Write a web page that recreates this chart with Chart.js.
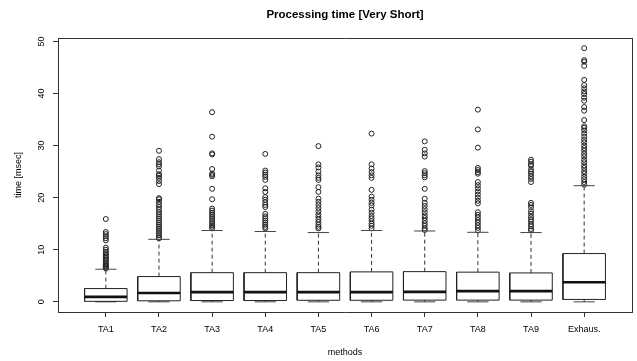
<!DOCTYPE html>
<html><head><meta charset="utf-8">
<script src="https://cdn.jsdelivr.net/npm/chart.js@4"></script>
<style>html,body{margin:0;padding:0;background:#fff}#wrap{width:637px;height:361px}</style>
</head><body><div id="wrap"><canvas id="c" width="637" height="361"></canvas></div>
<script>
const categories = ['TA1','TA2','TA3','TA4','TA5','TA6','TA7','TA8','TA9','Exhaus.'];
const yTickValues = [0,10,20,30,40,50];
const lowerWhisker = [0,0,0,0,0,0,0,0,0,0];
const q1 = [0.1,0.2,0.25,0.25,0.3,0.3,0.33,0.33,0.33,0.46];
const median = [0.95,1.7,1.86,1.86,1.86,1.86,1.92,2.05,2.05,3.77];
const q3 = [2.55,4.85,5.6,5.6,5.6,5.75,5.8,5.7,5.55,9.27];
const upperWhisker = [6.26,12.0,13.7,13.5,13.3,13.7,13.6,13.35,13.3,22.3];
const outliersTA1 = [15.9,13.4,13.0,12.6,12.2,11.8,10.4,10.0,9.6,9.3,9.0,8.7,8.4,8.1,7.8,7.5,7.2,7.0,6.8,6.6,6.4];
const outliersTA2 = [29.0,27.4,26.8,26.4,26.0,25.2,24.5,24.2,23.8,23.2,22.6,19.9,19.7,19.2,18.7,18.2,17.7,17.2,16.8,16.4,16.0,15.6,15.2,14.8,14.4,14.0,13.6,13.2,12.8,12.4,12.2];
const outliersTA3 = [36.4,31.7,28.5,28.3,25.5,24.6,24.4,24.1,21.7,19.7,17.9,17.5,17.1,16.7,16.3,15.9,15.5,15.1,14.7,14.4,14.1];
const outliersTA4 = [28.4,25.2,24.8,24.4,24.0,23.4,21.8,21.1,20.1,19.6,19.1,18.6,18.2,16.9,16.4,16.0,15.6,15.2,14.8,14.4,14.1];
const outliersTA5 = [29.9,26.4,25.8,25.0,24.3,23.8,23.4,22.0,21.1,19.8,19.2,18.6,18.0,17.4,16.8,16.3,15.8,15.3,14.8,14.4,14.1];
const outliersTA6 = [32.3,26.4,25.6,24.9,24.3,23.8,21.5,20.2,19.6,19.0,18.5,17.7,17.1,16.5,16.0,15.5,15.0,14.6,14.1];
const outliersTA7 = [30.8,29.2,28.5,27.9,25.1,24.7,24.3,23.9,21.7,19.8,19.0,18.4,17.8,17.2,16.6,16.1,15.6,15.1,14.6,14.1,13.8];
const outliersTA8 = [36.9,33.1,29.6,25.7,25.3,24.9,24.6,23.0,22.4,21.8,21.2,20.6,20.0,19.4,18.9,17.2,16.7,16.2,15.7,15.2,14.7,14.2,13.7];
const outliersTA9 = [27.3,26.9,26.4,26.1,25.4,25.0,24.6,24.1,23.6,23.0,19.0,18.6,18.1,17.4,16.9,16.3,15.8,15.4,14.9,14.5,14.0,13.7];
const outliersExhaus = [48.7,46.4,46.1,45.3,42.6,41.6,41.0,40.4,39.9,39.2,38.6,37.4,36.7,34.9,33.7,33.4,32.9,32.3,31.7,31.1,30.6,30.0,29.5,29.0,28.4,27.9,27.3,26.8,26.2,25.7,25.1,24.6,24.0,23.5,23.0,22.5];
const outliers = [outliersTA1,outliersTA2,outliersTA3,outliersTA4,outliersTA5,outliersTA6,outliersTA7,outliersTA8,outliersTA9,outliersExhaus];

const HW = 0.4;   // half box width (R boxwex 0.8)
const SW = 0.2;   // half staple width
const boxPts = [], medPts = [], whiskPts = [], staplePts = [], outPts = [];
categories.forEach((c, i) => {
  const x = i + 1;
  boxPts.push({x:x-HW,y:q1[i]},{x:x+HW,y:q1[i]},{x:x+HW,y:q3[i]},{x:x-HW,y:q3[i]},{x:x-HW,y:q1[i]},{x:x,y:null});
  medPts.push({x:x-HW,y:median[i]},{x:x+HW,y:median[i]},{x:x,y:null});
  whiskPts.push({x:x,y:q3[i]},{x:x,y:upperWhisker[i]},{x:x,y:null},{x:x,y:q1[i]},{x:x,y:lowerWhisker[i]},{x:x,y:null});
  staplePts.push({x:x-SW,y:upperWhisker[i]},{x:x+SW,y:upperWhisker[i]},{x:x,y:null},{x:x-SW,y:lowerWhisker[i]},{x:x+SW,y:lowerWhisker[i]},{x:x,y:null});
  outliers[i].forEach(v => outPts.push({x:x,y:v}));
});

const FONT = 'Liberation Sans, Arial, Helvetica, sans-serif';
const lineDs = (data, w, dash, color) => ({
  data, showLine:true, spanGaps:false, pointRadius:0, borderColor:color, borderWidth:w,
  borderDash:dash, fill:false, xAxisID:'x', yAxisID:'y', tension:0
});

new Chart(document.getElementById('c'), {
  type:'scatter',
  data:{datasets:[
    lineDs(medPts, 2.6, [], '#111'),
    lineDs(boxPts, 1, [], '#222'),
    lineDs(staplePts, 1, [], '#444'),
    lineDs(whiskPts, 1, [4,3], '#333'),
    {data:outPts, showLine:false, pointRadius:2.5, pointBorderWidth:1, pointStyle:'circle',
     pointBackgroundColor:'rgba(0,0,0,0)', pointBorderColor:'#222', xAxisID:'x', yAxisID:'y'}
  ]},
  options:{
    responsive:false, devicePixelRatio:1, animation:false, events:[],
    layout:{padding:0},
    plugins:{legend:{display:false}, tooltip:{enabled:false}, title:{display:false}},
    scales:{
      x:{type:'linear', position:'bottom', min:0.1, max:10.9,
        afterBuildTicks:s=>{s.ticks = categories.map((c,i)=>({value:i+1}));},
        ticks:{callback:(v,i)=>categories[i], autoSkip:false, minRotation:0, maxRotation:0, padding:7,
          font:{family:FONT,size:9}, color:'#000'},
        grid:{display:true, drawOnChartArea:false, drawTicks:true, tickLength:5, color:'#333', lineWidth:1},
        border:{display:true, color:'#333', width:1},
        title:{display:true, text:'methods', font:{family:FONT,size:9}, color:'#000', padding:{top:0,bottom:3.5}},
        afterFit:s=>{s.height=49;}
      },
      y:{type:'linear', position:'left', min:-1.95, max:50.65,
        afterBuildTicks:s=>{s.ticks = yTickValues.map(v=>({value:v}));},
        ticks:{minRotation:90, maxRotation:90, crossAlign:'center', padding:6,
          font:{family:FONT,size:9}, color:'#000'},
        grid:{display:true, drawOnChartArea:false, drawTicks:true, tickLength:5, color:'#333', lineWidth:1},
        border:{display:true, color:'#333', width:1},
        title:{display:true, text:'time [msec]', font:{family:FONT,size:9}, color:'#000', padding:{top:13.6,bottom:0}},
        afterFit:s=>{s.width=58;}
      },
      xTop:{type:'linear', position:'top', min:0, max:1,
        grid:{display:false}, ticks:{display:false},
        border:{display:true, color:'#333', width:1},
        title:{display:true, text:'Processing time [Very Short]', font:{family:FONT,size:11.5,weight:'bold'}, color:'#000', padding:{top:7.9,bottom:0}},
        afterFit:s=>{s.height=38;}
      },
      yRight:{type:'linear', position:'right', min:0, max:1,
        grid:{display:false}, ticks:{display:false},
        border:{display:true, color:'#333', width:1},
        afterFit:s=>{s.width=5;}
      }
    }
  }
});
</script></body></html>
